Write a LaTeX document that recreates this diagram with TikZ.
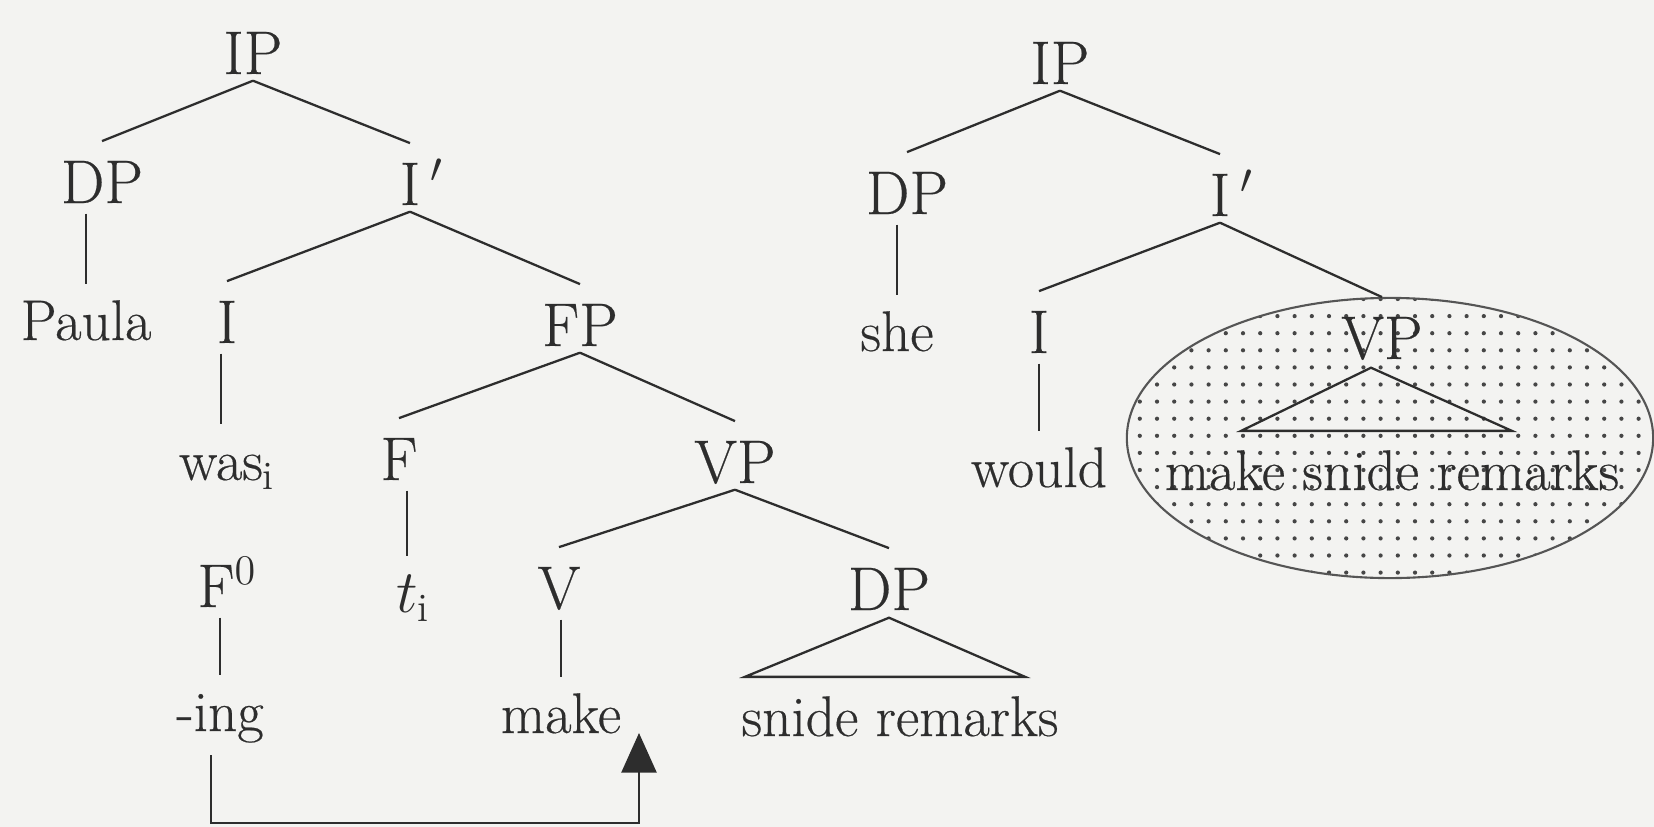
\documentclass[tikz,border=0pt]{standalone}
\usepackage{fontspec}
\setmainfont{Latin Modern Roman}
\usetikzlibrary{arrows.meta,calc}
\definecolor{bg}{RGB}{243,243,241}
\definecolor{ink}{RGB}{45,45,45}
\definecolor{dotc}{RGB}{70,70,70}
\definecolor{rim}{RGB}{85,85,85}
\newcommand\catf{\fontsize{17.5}{20}\selectfont\addfontfeature{FakeBold=0.35}}
\newcommand\wordf{\fontsize{16.3}{19}\selectfont\addfontfeature{FakeBold=0.35}}
\tikzset{
  cat/.style={font=\catf, inner sep=0pt, text height=12pt, text depth=0pt, anchor=base, text=ink},
  word/.style={font=\wordf, inner sep=0pt, text height=11.5pt, text depth=3.3pt, anchor=base, text=ink},
  edge/.style={draw=ink, line width=0.65pt},
}
\newcommand\branch[2]{\draw[edge] ($(#1.south)+(0,6)$) -- ($(#2.north)+(0,-19)$);}
\newcommand\stem[2]{\draw[edge] ($(#1.south -| #2.north)+(0,10)$) -- ($(#2.north)+(0,-15)$);}
\begin{document}
\begin{tikzpicture}[x=0.01cm,y=-0.01cm]
\useasboundingbox (0,0) rectangle (1654,827);
\fill[bg] (0,0) rectangle (1654,827);

% shaded ellipse
\begin{scope}
  \clip (1390,438) ellipse [x radius=2.63cm, y radius=1.40cm];
  \foreach \i in {0,...,32}{
    \foreach \j in {0,...,17}{
      \fill[dotc] ({1122.6+17.2*\i},{299+17.1*\j}) circle[radius=0.6pt];
    }
  }
\end{scope}
\draw[rim, line width=0.6pt] (1390,438) ellipse [x radius=2.63cm, y radius=1.40cm];

% left tree
\node[cat] (IPa) at (253,74) {IP};
\node[cat] (DPa) at (102,203) {DP};
\node[cat] (Ibara) at (410,205) {I\rlap{\,$'$}};
\node[word] (Paula) at (86,340) {Paula};
\node[cat] (Ia) at (227,343) {I};
\node[cat] (FPa) at (580,346) {FP};
\node[word] (was) at (221,480) {was\rlap{$_{\mathrm{i}}$}};
\node[cat] (Fa) at (399,480) {F};
\node[cat] (VPa) at (735,483) {VP};
\node[cat] (F0) at (216,607) {F\rlap{$^{0}$}};
\node[word] (t) at (407,612) {$t$\rlap{$_{\mathrm{i}}$}};
\node[cat] (V) at (559,609) {V};
\node[cat] (DPb) at (889,610) {DP};
\node[word] (ing) at (220,731) {-ing};
\node[word] (make) at (561,733) {make};
\node[word] (snide) at (900,736) {snide remarks};

\branch{IPa}{DPa}
\branch{IPa}{Ibara}
\stem{DPa}{Paula}
\branch{Ibara}{Ia}
\branch{Ibara}{FPa}
\stem{Ia}{was}
\branch{FPa}{Fa}
\branch{FPa}{VPa}
\stem{Fa}{t}
\branch{VPa}{V}
\branch{VPa}{DPb}
\stem{V}{make}
\stem{F0}{ing}
\draw[edge] ($(DPb.south)+(0,7)$) -- ($(snide.north west)+(4,-18)$) -- ($(snide.north east)+(-34,-18)$) -- cycle;

% movement arrow
\coordinate (corner) at (639,823);
\coordinate (tip) at (639,733);
\draw[edge,-{Triangle[width=10pt,length=11.3pt]}] ($(ing.south)+(-9,12)$) |- (corner) -- (tip);

% right tree
\node[cat] (IPb) at (1060,84) {IP};
\node[cat] (DPc) at (907,214) {DP};
\node[cat] (Ibarb) at (1220,216) {I\rlap{\,$'$}};
\node[word] (she) at (897,351) {she};
\node[cat] (Ib) at (1039,353) {I};
\node[cat] (VPb) at (1382,359) {VP};
\node[word] (would) at (1039,487) {would};
\node[word] (msr) at (1392,490) {make snide remarks};

\branch{IPb}{DPc}
\branch{IPb}{Ibarb}
\stem{DPc}{she}
\branch{Ibarb}{Ib}
\branch{Ibarb}{VPb}
\stem{Ib}{would}
\draw[edge] ($(VPb.south)+(-11,8)$) -- ($(msr.north west)+(77,-18)$) -- ($(msr.north east)+(-108,-18)$) -- cycle;
\end{tikzpicture}
\end{document}
